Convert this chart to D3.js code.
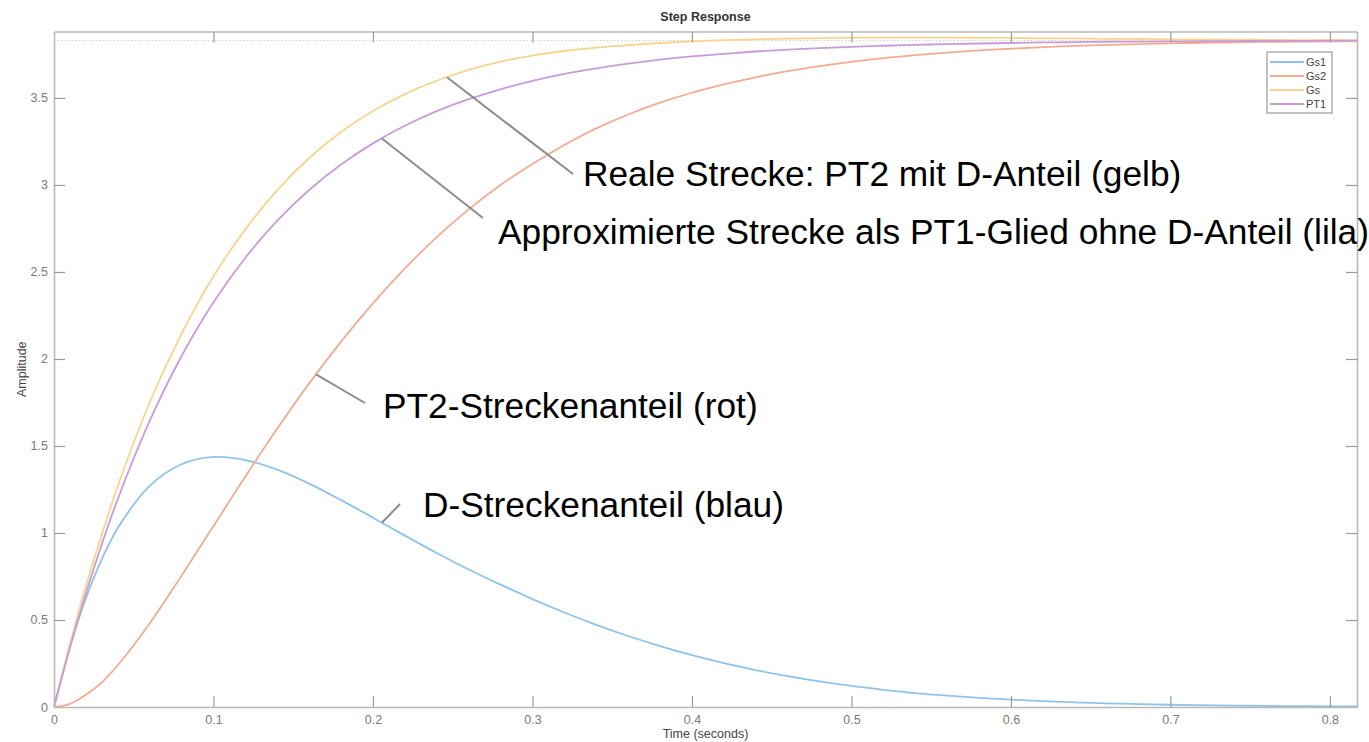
<!DOCTYPE html>
<html>
<head>
<meta charset="utf-8">
<script src="https://cdn.jsdelivr.net/npm/d3@7"></script>
<style>
  html, body { margin: 0; padding: 0; background: #fff; }
  svg { display: block; font-family: "Liberation Sans", Arial, Helvetica, sans-serif; }
</style>
</head>
<body>
<svg id="chart" width="1369" height="742"></svg>
<script>
// Step responses (time in seconds)
const time = [0, 0.01, 0.02, 0.03, 0.04, 0.06, 0.08, 0.10, 0.12, 0.14, 0.16, 0.18, 0.20,
  0.22, 0.24, 0.26, 0.28, 0.30, 0.32, 0.34, 0.36, 0.38, 0.40,
  0.42, 0.44, 0.46, 0.48, 0.50, 0.52, 0.54, 0.56, 0.58, 0.60,
  0.62, 0.64, 0.66, 0.68, 0.70, 0.72, 0.74, 0.76, 0.78, 0.80, 0.817];

// D part of the plant
const gs1 = [0, 0.344, 0.625, 0.850, 1.029, 1.271, 1.395, 1.437, 1.419, 1.364, 1.284, 1.189, 1.088,
  0.985, 0.885, 0.790, 0.703, 0.620, 0.543, 0.472, 0.408, 0.350, 0.298,
  0.252, 0.212, 0.177, 0.147, 0.121, 0.099, 0.080, 0.065, 0.052, 0.042,
  0.034, 0.027, 0.021, 0.017, 0.013, 0.010, 0.008, 0.006, 0.005, 0.004, 0.003];

// PT2 part of the plant
const gs2 = [0, 0.018, 0.07, 0.142, 0.24, 0.48, 0.755, 1.04, 1.325, 1.60, 1.86, 2.10, 2.32,
  2.52, 2.70, 2.86, 3.00, 3.12, 3.23, 3.325, 3.405, 3.473, 3.53,
  3.578, 3.619, 3.654, 3.683, 3.708, 3.729, 3.746, 3.761, 3.773, 3.783,
  3.792, 3.799, 3.805, 3.81, 3.814, 3.817, 3.82, 3.822, 3.824, 3.825, 3.826];

// Real plant: PT2 with D part
const gs = [0, 0.362, 0.695, 0.992, 1.27, 1.75, 2.145, 2.475, 2.745, 2.97, 3.155, 3.305, 3.425,
  3.522, 3.599, 3.661, 3.709, 3.744, 3.77, 3.789, 3.804, 3.816, 3.825,
  3.832, 3.837, 3.841, 3.844, 3.846, 3.847, 3.847, 3.847, 3.846, 3.845,
  3.843, 3.842, 3.84, 3.839, 3.837, 3.836, 3.835, 3.834, 3.833, 3.832, 3.831];

// First-order approximation
const pt1 = [0, 0.342, 0.653, 0.936, 1.195, 1.644, 2.017, 2.326, 2.582, 2.795, 2.971, 3.118, 3.239,
  3.340, 3.424, 3.493, 3.550, 3.598, 3.638, 3.670, 3.697, 3.720, 3.739,
  3.754, 3.767, 3.778, 3.787, 3.794, 3.800, 3.805, 3.810, 3.813, 3.816,
  3.819, 3.821, 3.823, 3.824, 3.825, 3.826, 3.827, 3.828, 3.828, 3.829, 3.829];

const steadyState = 3.83;
const xTicks = [0, 0.1, 0.2, 0.3, 0.4, 0.5, 0.6, 0.7, 0.8];
const yTicks = [0, 0.5, 1, 1.5, 2, 2.5, 3, 3.5];
const seriesNames = ["Gs1", "Gs2", "Gs", "PT1"];
const seriesColors = ["#8fc3e8", "#f3ab93", "#f7d58f", "#c99bd8"];

const series = [gs1, gs2, gs, pt1].map((vals, i) => ({
  name: seriesNames[i],
  color: seriesColors[i],
  points: time.map((t, j) => ({ t, v: vals[j] }))
}));

// Callouts: anchored on a curve at time t, leader end point, text position
const callouts = [
  { text: "Reale Strecke: PT2 mit D-Anteil (gelb)", series: "Gs", t: 0.2464, ex: 573, ey: 174, tx: 583, ty: 186 },
  { text: "Approximierte Strecke als PT1-Glied ohne D-Anteil (lila)", series: "PT1", t: 0.2056, ex: 483, ey: 218, tx: 498, ty: 244 },
  { text: "PT2-Streckenanteil (rot)", series: "Gs2", t: 0.1643, ex: 365, ey: 403, tx: 383, ty: 418 },
  { text: "D-Streckenanteil (blau)", series: "Gs1", t: 0.2056, ex: 400, ey: 504, tx: 423, ty: 517 }
];

const svg = d3.select("#chart");
const plotLeft = 54, plotRight = 1357, plotTop = 31.5, plotBottom = 707;

const x = d3.scaleLinear().domain([0, 0.817]).range([plotLeft, plotRight]);
const y = d3.scaleLinear().domain([0, 3.882]).range([plotBottom, plotTop]);

const axisColor = "#b8b8b8";
const labelColor = "#7a7a7a";

// steady-state marker
svg.append("line")
  .attr("x1", x(0)).attr("x2", x(0.817))
  .attr("y1", y(steadyState)).attr("y2", y(steadyState))
  .attr("stroke", "#cfcfcf").attr("stroke-width", 1).attr("stroke-dasharray", "1.5,2");

// curves
const line = d3.line().x(d => x(d.t)).y(d => y(d.v)).curve(d3.curveCatmullRom.alpha(0.5));
svg.append("g").selectAll("path").data(series).join("path")
  .attr("d", d => line(d.points))
  .attr("fill", "none")
  .attr("stroke", d => d.color)
  .attr("stroke-width", 1.8);

// axes (box with inward ticks on all four sides)
const tickLen = 11;
const axB = svg.append("g").attr("transform", `translate(0,${plotBottom})`)
  .call(d3.axisBottom(x).tickValues(xTicks).tickFormat(d3.format("~g")).tickSizeInner(-tickLen).tickSizeOuter(0).tickPadding(tickLen + 6));
const axT = svg.append("g").attr("transform", `translate(0,${plotTop})`)
  .call(d3.axisTop(x).tickValues(xTicks).tickFormat("").tickSizeInner(-tickLen).tickSizeOuter(0));
const axL = svg.append("g").attr("transform", `translate(${plotLeft},0)`)
  .call(d3.axisLeft(y).tickValues(yTicks).tickFormat(d3.format("~g")).tickSizeInner(-tickLen).tickSizeOuter(0).tickPadding(6));
const axR = svg.append("g").attr("transform", `translate(${plotRight},0)`)
  .call(d3.axisRight(y).tickValues(yTicks).tickFormat("").tickSizeInner(-tickLen).tickSizeOuter(0));

[axB, axT, axL, axR].forEach(g => {
  g.select(".domain").attr("stroke", axisColor).attr("stroke-width", 1.6);
  g.selectAll(".tick line").attr("stroke", "#9a9a9a").attr("stroke-width", 1.2);
  g.selectAll(".tick text").attr("fill", labelColor)
    .attr("font-size", 12.5).attr("font-family", "Liberation Sans, Arial, sans-serif");
});
axB.selectAll(".tick text").attr("dy", "0.35em").attr("y", 13);
// no inner tick marks at the plot corners
[axB, axT, axL, axR].forEach(g => g.selectAll(".tick").filter(d => d === 0).select("line").remove());

// titles
svg.append("text").attr("x", (plotLeft + plotRight) / 2).attr("y", 21)
  .attr("text-anchor", "middle").attr("font-size", 12.5).attr("font-weight", "bold")
  .attr("fill", "#333").text("Step Response");
svg.append("text").attr("x", (plotLeft + plotRight) / 2).attr("y", 738)
  .attr("text-anchor", "middle").attr("font-size", 12.5)
  .attr("fill", "#444").text("Time (seconds)");
svg.append("text").attr("transform", `translate(26,${(plotTop + plotBottom) / 2}) rotate(-90)`)
  .attr("text-anchor", "middle").attr("font-size", 12.5)
  .attr("fill", "#444").text("Amplitude");

// legend
const lg = svg.append("g").attr("transform", "translate(1267,52)");
lg.append("rect").attr("width", 65).attr("height", 61)
  .attr("fill", "#fff").attr("stroke", "#9a9a9a").attr("stroke-width", 1.2);
const entries = lg.selectAll("g.entry").data(series).join("g")
  .attr("class", "entry")
  .attr("transform", (d, i) => `translate(0,${10 + i * 14})`);
entries.append("line").attr("x1", 3).attr("x2", 37).attr("y1", 0).attr("y2", 0)
  .attr("stroke", d => d.color).attr("stroke-width", 1.8);
entries.append("text").attr("x", 39).attr("y", 0).attr("dy", "0.35em")
  .attr("font-size", 11).attr("fill", "#444").text(d => d.name);

// callouts
const valueAt = (name, t) => {
  const s = series.find(d => d.name === name);
  const i = d3.bisector(d => d.t).left(s.points, t);
  const a = s.points[Math.max(0, i - 1)], b = s.points[i];
  const k = (t - a.t) / ((b.t - a.t) || 1);
  return a.v + k * (b.v - a.v);
};
const cg = svg.append("g");
callouts.forEach(c => {
  cg.append("line")
    .attr("x1", x(c.t)).attr("y1", y(valueAt(c.series, c.t)))
    .attr("x2", c.ex).attr("y2", c.ey)
    .attr("stroke", "#8c8c8c").attr("stroke-width", 2);
  cg.append("text").attr("x", c.tx).attr("y", c.ty)
    .attr("font-size", 35.3).attr("fill", "#000")
    .attr("font-family", "Liberation Sans, Arial, sans-serif")
    .text(c.text);
});
</script>
</body>
</html>
